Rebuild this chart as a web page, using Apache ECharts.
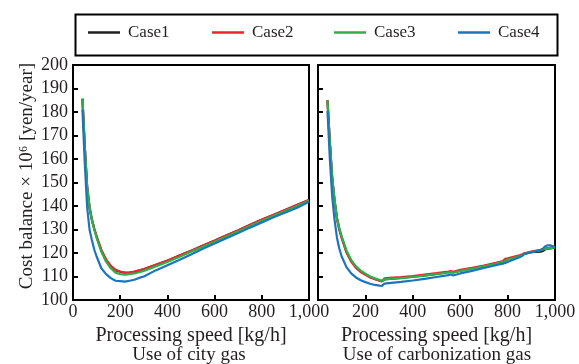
<!DOCTYPE html>
<html>
<head>
<meta charset="utf-8">
<script src="https://cdn.jsdelivr.net/npm/echarts@6/dist/echarts.min.js"></script>
<style>
html,body{margin:0;padding:0;background:#fff;}
#chart{width:579px;height:364px;}
</style>
</head>
<body>
<div id="chart"></div>
<script>
// ---- Data ----
var seriesNames = ['Case1', 'Case2', 'Case3', 'Case4'];
var xTicks = [0, 200, 400, 600, 800, 1000];
var yTicks = [100, 110, 120, 130, 140, 150, 160, 170, 180, 190, 200];

// Left panel: Use of city gas
var cityX     = [40, 50, 60, 70, 80, 90, 100, 120, 140, 160, 180, 200, 220, 240, 260, 280, 300, 350, 400, 450, 500, 550, 600, 650, 700, 750, 800, 850, 900, 950, 1000];
var cityCase1 = [185.6, 165.0, 148.0, 139.5, 134.2, 130.3, 127.0, 121.2, 117.1, 114.4, 112.7, 112.0, 111.6, 111.7, 112.0, 112.5, 113.1, 114.9, 116.7, 118.8, 120.9, 123.1, 125.2, 127.4, 129.6, 131.9, 134.1, 136.2, 138.3, 140.4, 142.5];
var cityCase2 = [185.6, 165.0, 148.0, 139.5, 134.2, 130.3, 127.0, 121.2, 117.2, 114.5, 112.8, 112.1, 111.7, 111.8, 112.1, 112.6, 113.2, 115.0, 116.8, 118.9, 121.0, 123.2, 125.3, 127.5, 129.7, 132.0, 134.2, 136.3, 138.4, 140.5, 142.6];
var cityCase3 = [185.8, 165.0, 148.0, 139.3, 134.0, 130.0, 126.5, 120.5, 116.3, 113.5, 111.6, 111.0, 110.8, 111.0, 111.3, 111.8, 112.4, 114.3, 116.2, 118.3, 120.5, 122.7, 124.8, 127.0, 129.2, 131.5, 133.7, 135.8, 137.9, 140.0, 142.2];
var cityCase4 = [181.0, 158.0, 139.5, 130.0, 125.5, 121.5, 118.5, 113.5, 111.0, 109.3, 108.2, 108.0, 107.8, 108.2, 108.6, 109.4, 110.0, 112.6, 114.8, 117.0, 119.4, 121.8, 124.0, 126.3, 128.5, 130.8, 133.0, 135.2, 137.2, 139.3, 141.8];

// Right panel: Use of carbonization gas
var carbX     = [40, 50, 60, 70, 80, 90, 100, 120, 140, 160, 180, 200, 220, 240, 260, 270, 280, 300, 350, 400, 450, 500, 550, 560, 570, 600, 650, 700, 750, 780, 790, 800, 850, 860, 870, 900, 940, 945, 950, 960, 970, 980, 1000];
var carbCase1 = [185.0, 167.0, 152.0, 142.3, 134.8, 130.2, 126.7, 120.7, 116.7, 114.0, 112.2, 111.0, 109.8, 109.0, 108.3, 108.0, 108.8, 109.0, 109.4, 109.9, 110.5, 111.1, 111.8, 112.0, 111.7, 112.5, 113.4, 114.4, 115.5, 116.3, 116.8, 117.3, 118.7, 119.0, 119.7, 120.4, 120.6, 119.8, 120.9, 121.6, 121.8, 122.0, 122.3];
var carbCase2 = [185.0, 166.6, 151.5, 141.8, 134.4, 129.8, 126.2, 120.2, 116.3, 113.7, 111.9, 110.7, 109.6, 108.8, 108.2, 107.9, 109.2, 109.4, 109.7, 110.2, 110.8, 111.4, 112.1, 112.3, 112.0, 112.8, 113.7, 114.7, 115.8, 116.6, 117.5, 117.7, 119.0, 119.3, 119.9, 120.6, 121.4, 121.5, 121.7, 121.9, 122.1, 122.3, 122.6];
var carbCase3 = [185.0, 167.0, 152.0, 142.5, 135.0, 130.5, 127.0, 121.0, 117.0, 114.3, 112.5, 111.2, 110.0, 109.2, 108.5, 108.2, 108.8, 109.0, 109.3, 109.8, 110.4, 111.0, 111.7, 111.9, 111.6, 112.4, 113.3, 114.3, 115.4, 116.2, 116.6, 117.2, 118.6, 118.9, 119.6, 120.3, 121.2, 121.3, 121.5, 121.7, 121.9, 122.1, 122.4];
var carbCase4 = [180.5, 160.0, 144.0, 134.0, 126.5, 121.8, 118.5, 114.0, 111.3, 109.6, 108.4, 107.6, 106.9, 106.4, 106.1, 106.0, 107.0, 107.2, 107.7, 108.3, 109.0, 109.8, 110.6, 110.9, 110.4, 111.3, 112.4, 113.6, 114.8, 115.5, 115.8, 116.2, 118.2, 118.6, 119.5, 120.3, 121.3, 121.4, 122.0, 122.9, 123.3, 123.3, 122.5];

var colors = ['#231f20', '#e8262d', '#2db04b', '#1c75bc'];

// ---- Build ----
function pairs(xs, ys) { return xs.map(function (x, i) { return [x, ys[i]]; }); }
var cityData = [cityCase1, cityCase2, cityCase3, cityCase4];
var carbData = [carbCase1, carbCase2, carbCase3, carbCase4];

var FONT = '"Liberation Serif", "Times New Roman", serif';

var series = [];
seriesNames.forEach(function (n, i) {
  series.push({
    name: n, type: 'line', xAxisIndex: 0, yAxisIndex: 0,
    data: pairs(cityX, cityData[i]), showSymbol: false, symbol: 'none',
    lineStyle: { color: colors[i], width: 2.2 }, itemStyle: { color: colors[i] },
    z: 2 + i, animation: false
  });
});
seriesNames.forEach(function (n, i) {
  series.push({
    name: n, type: 'line', xAxisIndex: 1, yAxisIndex: 1,
    data: pairs(carbX, carbData[i]), showSymbol: false, symbol: 'none',
    lineStyle: { color: colors[i], width: 2.2 }, itemStyle: { color: colors[i] },
    z: 2 + i, animation: false
  });
});

function xAxisCfg(gridIndex, hideMin) {
  return {
    type: 'value', gridIndex: gridIndex, min: xTicks[0], max: xTicks[xTicks.length - 1],
    interval: xTicks[1] - xTicks[0],
    axisLine: { show: true, onZero: false, lineStyle: { color: '#000', width: 2 } },
    axisTick: { show: true, inside: true, length: 5, lineStyle: { color: '#000', width: 2 } },
    axisLabel: { show: true, margin: 3, fontSize: 18, color: '#231f20', fontFamily: FONT, showMinLabel: !hideMin },
    splitLine: { show: false },
    name: 'Processing speed [kg/h]', nameLocation: 'middle', nameGap: 24,
    nameTextStyle: { fontSize: 20, color: '#231f20', fontFamily: FONT }
  };
}
function yAxisCfg(gridIndex, showLabels) {
  return {
    type: 'value', gridIndex: gridIndex, min: yTicks[0], max: yTicks[yTicks.length - 1],
    interval: yTicks[1] - yTicks[0],
    axisLine: { show: true, onZero: false, lineStyle: { color: '#000', width: 2 } },
    axisTick: { show: true, inside: true, length: 5, lineStyle: { color: '#000', width: 2 } },
    axisLabel: { show: showLabels, margin: 5, fontSize: 18, color: '#231f20', fontFamily: FONT },
    splitLine: { show: false }
  };
}

var legends = [88, 212, 334, 458].map(function (l, i) {
  return {
    data: [seriesNames[i]], left: l, top: 24, padding: 0, icon: 'rect', itemWidth: 32, itemHeight: 2.5,
    itemGap: 0, selectedMode: false,
    textStyle: { fontSize: 17, color: '#231f20', fontFamily: FONT, padding: [0, 0, 0, 3] }
  };
});

var chart = echarts.init(document.getElementById('chart'), null, { renderer: 'canvas' });
chart.setOption({
  animation: false,
  backgroundColor: '#fff',
  color: colors,
  legend: legends,
  grid: [
    { left: 73, top: 65, width: 236, height: 235, show: true, borderColor: '#000', borderWidth: 2, backgroundColor: 'transparent' },
    { left: 318, top: 65, width: 237, height: 235, show: true, borderColor: '#000', borderWidth: 2, backgroundColor: 'transparent' }
  ],
  xAxis: [xAxisCfg(0, false), xAxisCfg(1, true)],
  yAxis: [yAxisCfg(0, true), yAxisCfg(1, false)],
  series: series,
  graphic: [
    { type: 'rect', left: 73, top: 12, shape: { width: 482, height: 41 },
      style: { fill: 'none', stroke: '#000', lineWidth: 2 }, silent: true },
    { type: 'text', x: 27, y: 176, rotation: Math.PI / 2,
      style: { text: 'Cost balance \u00d7 10\u2076 [yen/year]', font: '19px ' + FONT, fill: '#231f20',
        textAlign: 'center', textVerticalAlign: 'middle' } },
    { type: 'text', x: 189, y: 355,
      style: { text: 'Use of city gas', font: '19px ' + FONT, fill: '#231f20',
        textAlign: 'center', textVerticalAlign: 'middle' } },
    { type: 'text', x: 437, y: 355,
      style: { text: 'Use of carbonization gas', font: '19px ' + FONT, fill: '#231f20',
        textAlign: 'center', textVerticalAlign: 'middle' } }
  ]
});
</script>
</body>
</html>
